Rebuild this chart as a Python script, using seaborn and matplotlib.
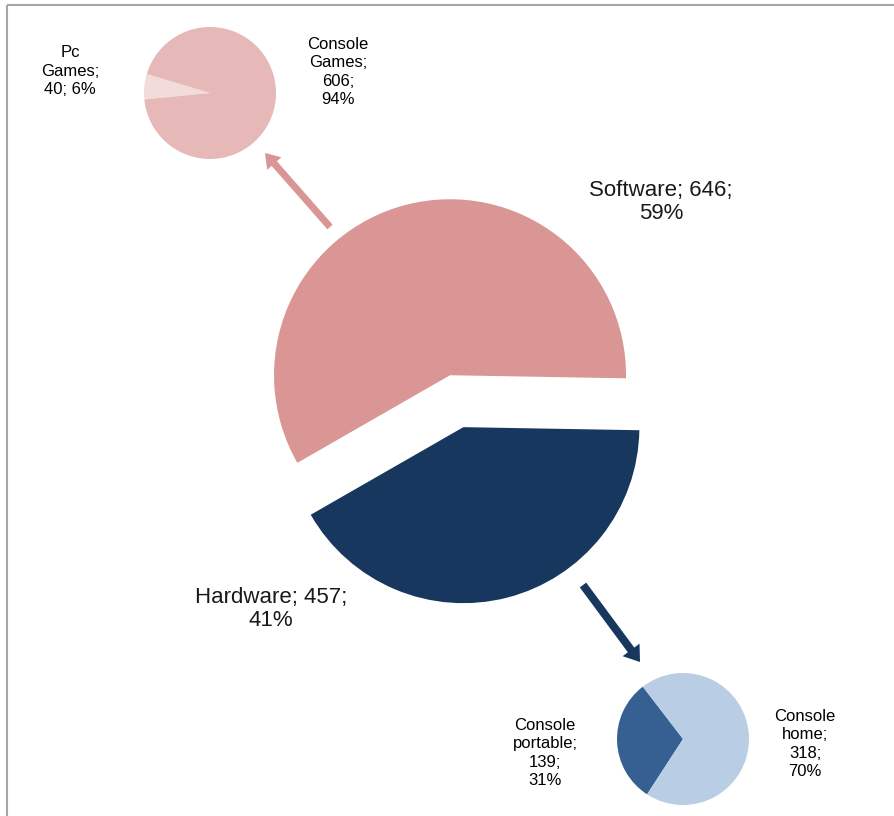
import matplotlib
matplotlib.use("Agg")
import matplotlib.pyplot as plt
import seaborn as sns

# Sales split: software vs hardware, with a breakdown of each
main_names = ["Software", "Hardware"]
main_values = [646, 457]
main_pcts = [59, 41]

software_names = ["Pc Games", "Console Games"]
software_values = [40, 606]
software_pcts = [6, 94]

hardware_names = ["Console portable", "Console home"]
hardware_values = [139, 318]
hardware_pcts = [31, 70]

sns.set_theme(style="white")
plt.rcParams["font.family"] = ["Liberation Sans", "DejaVu Sans"]

main_colors = ["#D99694", "#17375E"]
software_colors = ["#F2DCDB", "#E6B9B8"]
hardware_colors = ["#376092", "#B9CDE5"]

W, H = 894, 816
fig = plt.figure(figsize=(W / 100, H / 100), dpi=100)
ax = fig.add_axes([0, 0, 1, 1])

nowedge = dict(linewidth=0)

# Main pie, both slices pulled apart (explode is in data units here)
ax.pie(main_values, colors=main_colors, startangle=-1, counterclock=True,
       radius=176, center=(456.7, 414.8), explode=[26.8, 26.8],
       wedgeprops=nowedge)

# Software breakdown (top left)
ax.pie(software_values, colors=software_colors, startangle=163.3,
       radius=66, center=(210, 723), wedgeprops=nowedge)

# Hardware breakdown (bottom right)
ax.pie(hardware_values, colors=hardware_colors, startangle=127.5,
       radius=66, center=(683, 77), wedgeprops=nowedge)

# Arrows linking the main slices to their breakdowns
ax.arrow(330, 589, 265 - 330, 663 - 589, width=7, head_width=19,
         head_length=14, length_includes_head=True,
         color=main_colors[0], linewidth=0)
ax.arrow(583, 231, 640 - 583, 154 - 231, width=8, head_width=21,
         head_length=15, length_includes_head=True,
         color=main_colors[1], linewidth=0)

# Main labels
ax.text(661, 614, f"{main_names[0]}; {main_values[0]};\n{main_pcts[0]}%",
        ha="center", va="center", multialignment="center",
        fontsize=16, color="#1a1a1a", linespacing=1.15)
ax.text(271, 207, f"{main_names[1]}; {main_values[1]};\n{main_pcts[1]}%",
        ha="center", va="center", multialignment="center",
        fontsize=16, color="#1a1a1a", linespacing=1.15)

small = dict(ha="center", va="center", multialignment="center",
             fontsize=12, color="#000000", linespacing=1.28)

pc_first, pc_second = software_names[0].split(" ")
ax.text(70, 745, f"{pc_first}\n{pc_second};\n{software_values[0]}; {software_pcts[0]}%",
        **small)
cg_first, cg_second = software_names[1].split(" ")
ax.text(338, 744, f"{cg_first}\n{cg_second};\n{software_values[1]};\n{software_pcts[1]}%",
        **small)
cp_first, cp_second = hardware_names[0].split(" ")
ax.text(545, 63, f"{cp_first}\n{cp_second};\n{hardware_values[0]};\n{hardware_pcts[0]}%",
        **small)
ch_first, ch_second = hardware_names[1].split(" ")
ax.text(805, 72, f"{ch_first}\n{ch_second};\n{hardware_values[1]};\n{hardware_pcts[1]}%",
        **small)

# Frame lines along the top and left edge
ax.plot([7, 7], [0, 811], color="#A6A6A6", linewidth=1.5, solid_capstyle="butt")
ax.plot([7, W], [811, 811], color="#A6A6A6", linewidth=1.5, solid_capstyle="butt")

ax.set_xlim(0, W)
ax.set_ylim(0, H)
ax.set_aspect("equal")
ax.set_axis_off()

fig.savefig("out.png", dpi=100, facecolor="white")
